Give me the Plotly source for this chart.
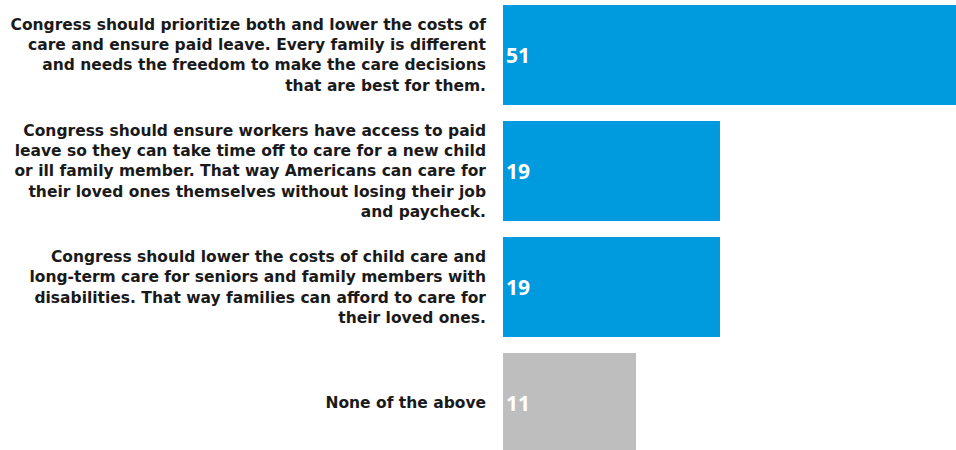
import plotly.graph_objects as go

categories = [
    "Congress should prioritize both and lower the costs of<br>care and ensure paid leave. Every family is different<br>and needs the freedom to make the care decisions<br>that are best for them.",
    "Congress should ensure workers have access to paid<br>leave so they can take time off to care for a new child<br>or ill family member. That way Americans can care for<br>their loved ones themselves without losing their job<br>and paycheck.",
    "Congress should lower the costs of child care and<br>long-term care for seniors and family members with<br>disabilities. That way families can afford to care for<br>their loved ones.",
    "None of the above",
]
values = [51, 18.6, 18.6, 11.4]
colors = ["#009BDE", "#009BDE", "#009BDE", "#BEBEBE"]

fig = go.Figure(
    go.Bar(
        x=values,
        y=categories,
        orientation="h",
        marker=dict(color=colors, line=dict(width=0)),
        texttemplate="%{x:.0f}",
        textposition="inside",
        insidetextanchor="start",
        textfont=dict(family="Open Sans", size=21, color="white", weight=700),
        width=0.862,
        cliponaxis=True,
    )
)

fig.update_layout(
    width=956,
    height=450,
    margin=dict(l=503, r=0, t=0, b=0),
    plot_bgcolor="white",
    paper_bgcolor="white",
    showlegend=False,
    xaxis=dict(range=[0, 38.83], visible=False, showgrid=False, zeroline=False),
    yaxis=dict(
        range=[3.405, -0.474],
        showgrid=False,
        zeroline=False,
        showline=False,
        ticks="",
        ticklabelstandoff=16,
        tickfont=dict(family="DejaVu Sans", size=15.5, color="#1a1a1a", weight=700),
    ),
)

fig.write_html("out.html")
